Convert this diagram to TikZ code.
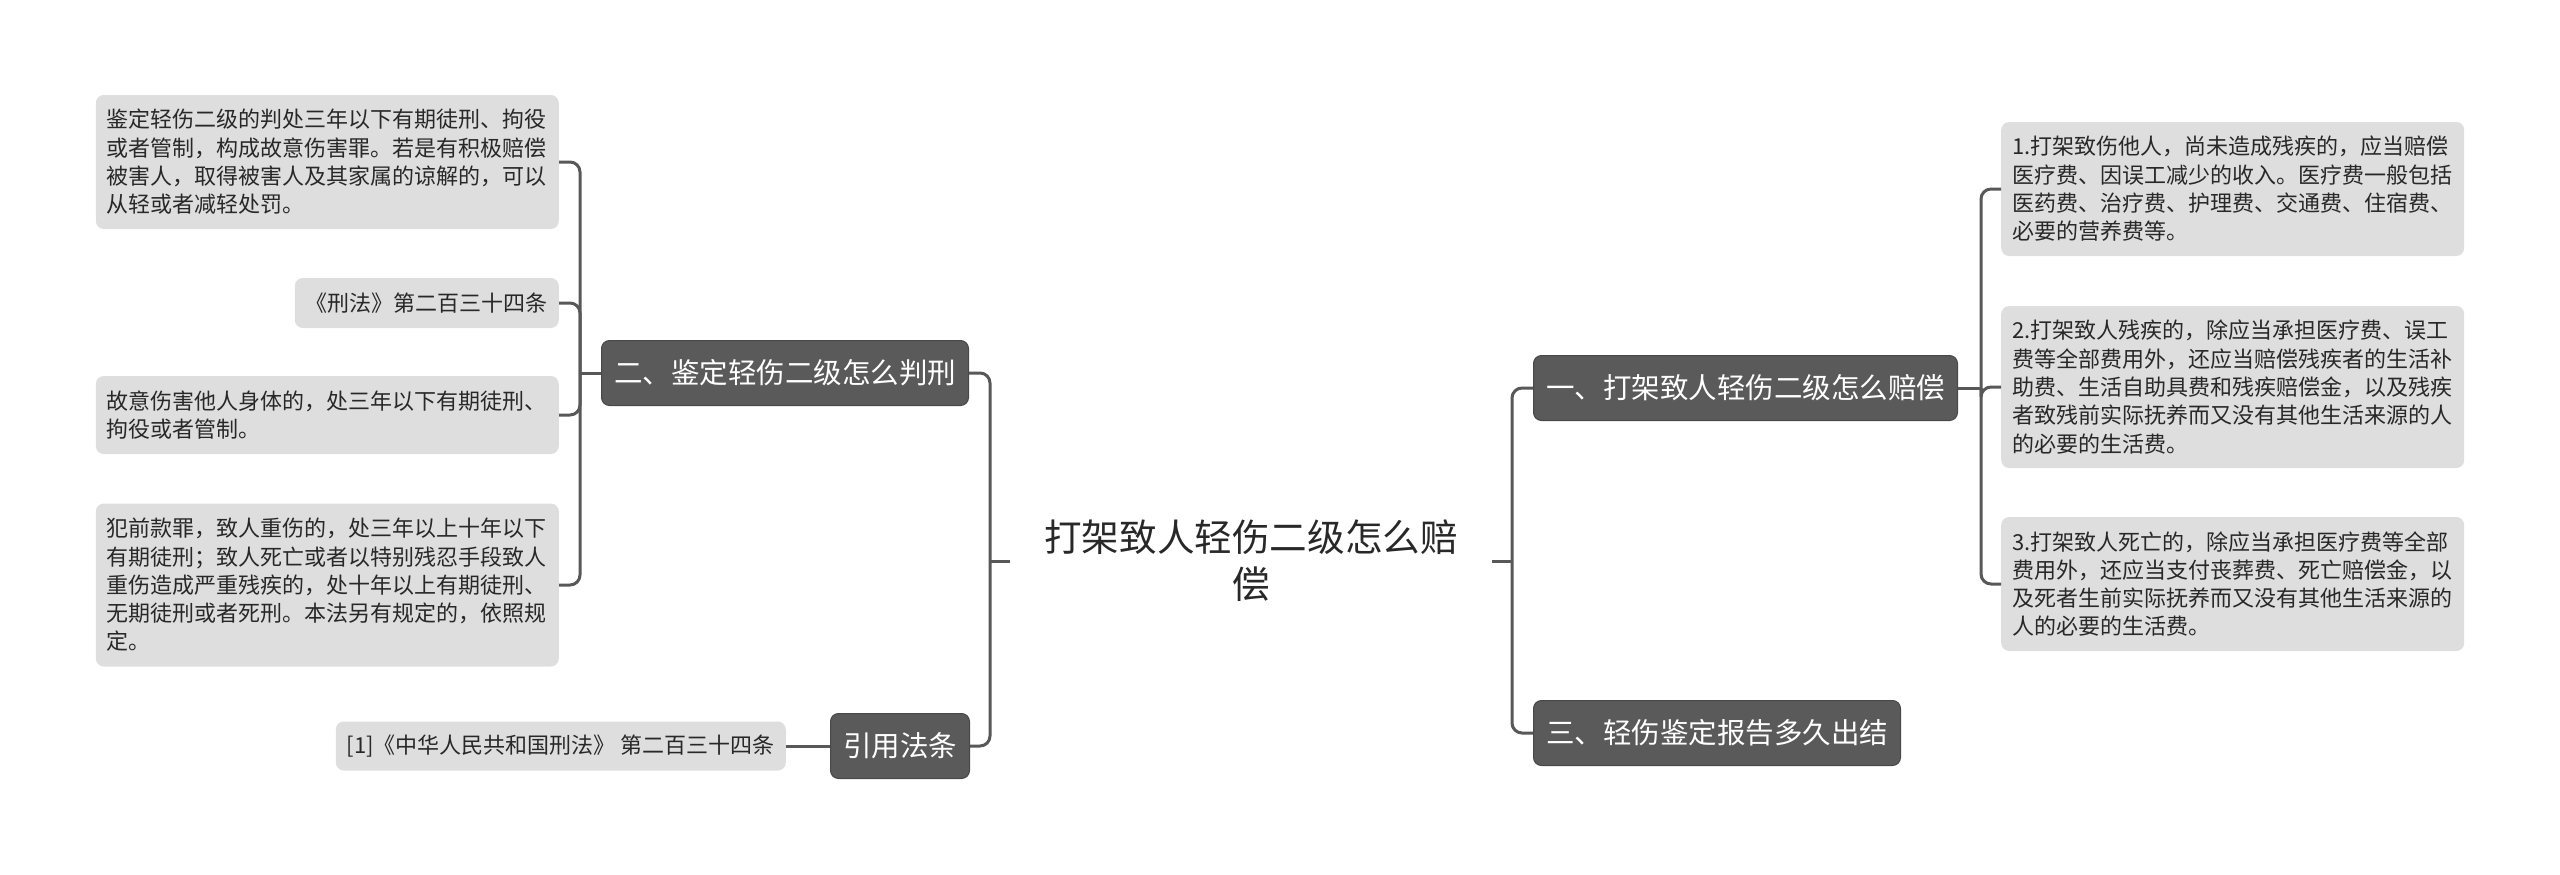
\documentclass[tikz,border=0pt]{standalone}
\usepackage{fontspec}
\setmainfont{Noto Sans CJK SC}
\definecolor{darkbox}{RGB}{90,90,90}
\definecolor{darkborder}{RGB}{72,72,72}
\definecolor{leafgray}{RGB}{222,222,222}
\definecolor{linegray}{RGB}{88,88,88}
\definecolor{leaftext}{RGB}{40,40,40}
\begin{document}
\begin{tikzpicture}[x=1pt,y=-1pt,
  conn/.style={draw=linegray, line width=3pt, rounded corners=10pt},
  topic/.style={rectangle, rounded corners=8pt, fill=darkbox, draw=darkborder, line width=1pt, text=white, font=\fontsize{28.5}{34}\selectfont, inner xsep=12.5pt, inner ysep=0pt, minimum height=65pt},
  leaf/.style={rectangle, rounded corners=8pt, fill=leafgray, text=leaftext, font=\fontsize{22}{28.3}\selectfont, inner xsep=11pt, inner ysep=0pt, align=left},
  para/.style={leaf, text width=441pt},
  titlenode/.style={rectangle, text=leaftext, font=\fontsize{37.6}{47}\selectfont, align=center, inner xsep=34pt, inner ysep=6pt}
  ]
\useasboundingbox (0,0) rectangle (2560,875);

% center
\node[titlenode] (t) at (1251,561) {打架致人轻伤二级怎么赔\\偿};

% left branch
\node[topic, anchor=east] (er) at (969,373) {二、鉴定轻伤二级怎么判刑};
\node[topic, anchor=east] (yy) at (970,746) {引用法条};

\node[para, minimum height=134pt, anchor=east] (l1) at (559,162) {鉴定轻伤二级的判处三年以下有期徒刑、拘役\\或者管制，构成故意伤害罪。若是有积极赔偿\\被害人，取得被害人及其家属的谅解的，可以\\从轻或者减轻处罚。};
\node[leaf, minimum height=50pt, anchor=east] (l2) at (559,303) {《刑法》第二百三十四条};
\node[para, minimum height=78pt, anchor=east] (l3) at (559,415) {故意伤害他人身体的，处三年以下有期徒刑、\\拘役或者管制。};
\node[para, minimum height=163pt, anchor=east] (l4) at (559,585) {犯前款罪，致人重伤的，处三年以上十年以下\\有期徒刑；致人死亡或者以特别残忍手段致人\\重伤造成严重残疾的，处十年以上有期徒刑、\\无期徒刑或者死刑。本法另有规定的，依照规\\定。};
\node[leaf, minimum height=49pt, anchor=east] (ref) at (786,746) {[1]《中华人民共和国刑法》 第二百三十四条};

% right branch
\node[topic, anchor=west] (yi) at (1533,388) {一、打架致人轻伤二级怎么赔偿};
\node[topic, anchor=west] (san) at (1533,733) {三、轻伤鉴定报告多久出结};

\node[para, minimum height=134pt, anchor=west] (r1) at (2001,189) {1.打架致伤他人，尚未造成残疾的，应当赔偿\\医疗费、因误工减少的收入。医疗费一般包括\\医药费、治疗费、护理费、交通费、住宿费、\\必要的营养费等。};
\node[para, minimum height=162pt, anchor=west] (r2) at (2001,387) {2.打架致人残疾的，除应当承担医疗费、误工\\费等全部费用外，还应当赔偿残疾者的生活补\\助费、生活自助具费和残疾赔偿金，以及残疾\\者致残前实际抚养而又没有其他生活来源的人\\的必要的生活费。};
\node[para, minimum height=134pt, anchor=west] (r3) at (2001,584) {3.打架致人死亡的，除应当承担医疗费等全部\\费用外，还应当支付丧葬费、死亡赔偿金，以\\及死者生前实际抚养而又没有其他生活来源的\\人的必要的生活费。};

% connectors
\coordinate (lj) at (990,561);
\draw[conn] (t.west) -- (lj);
\draw[conn] (lj) |- (er.east);
\draw[conn] (lj) |- (yy.east);

\coordinate (ej) at (580,373);
\draw[conn] (er.west) -- (ej);
\foreach \n in {l1,l2,l3,l4} \draw[conn] (ej) |- (\n.east);
\draw[conn] (yy.west) -- (ref.east);

\coordinate (rj) at (1512,561);
\draw[conn] (t.east) -- (rj);
\draw[conn] (rj) |- (yi.west);
\draw[conn] (rj) |- (san.west);

\coordinate (yj) at (1981,388);
\draw[conn] (yi.east) -- (yj);
\foreach \n in {r1,r2,r3} \draw[conn] (yj) |- (\n.west);
\end{tikzpicture}
\end{document}
